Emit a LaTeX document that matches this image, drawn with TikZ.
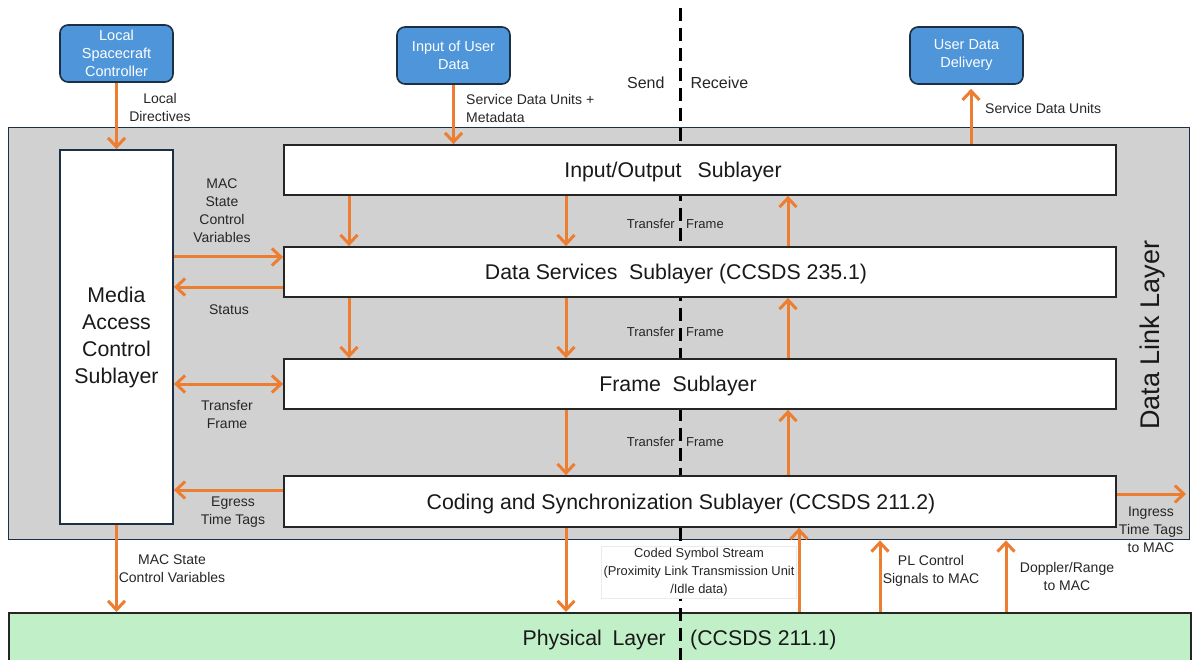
\documentclass[tikz,border=0pt]{standalone}
\usepackage{fontspec}
\setmainfont{Liberation Sans}
\usetikzlibrary{arrows.meta}
\definecolor{orng}{HTML}{ED7D31}
\definecolor{bluebox}{HTML}{4E95D9}
\definecolor{navy}{HTML}{1B2F45}
\definecolor{graybg}{HTML}{D1D1D1}
\definecolor{greenbg}{HTML}{C1F0C8}
\definecolor{txt}{HTML}{262626}
\tikzset{
  arr/.style={draw=orng, line width=3pt, -{Straight Barb[length=9pt,width=17pt,line width=3pt]}},
  darr/.style={draw=orng, line width=3pt, {Straight Barb[length=9pt,width=17pt,line width=3pt]}-{Straight Barb[length=9pt,width=17pt,line width=3pt]}},
  userbox/.style={draw=navy, line width=1.6pt, fill=bluebox, rounded corners=8pt, text=white,
     minimum width=113pt, minimum height=57pt, align=center, font=\fontsize{14.5}{18}\selectfont, inner sep=2pt},
  sub/.style={draw=black!85, line width=1.8pt, fill=white, minimum width=832pt, minimum height=50pt, inner sep=0pt},
  subtxt/.style={font=\fontsize{21.3}{25}\selectfont, text=black!90, anchor=base, inner sep=0pt},
  lbl/.style={font=\fontsize{14}{18}\selectfont, text=txt, align=center, inner sep=1pt},
  tf/.style={font=\fontsize{13}{16}\selectfont, text=txt, inner sep=1pt},
  sendline/.style={line width=3pt, black, dash pattern=on 13pt off 7pt},
}
\begin{document}
\begin{tikzpicture}[x=1pt,y=-1pt]
\useasboundingbox[fill=white] (0,0) rectangle (1196,660);

% layers (background)
\node[draw=navy, line width=1.4pt, fill=graybg, minimum width=1181pt, minimum height=412pt, anchor=north west, inner sep=0pt] (dll) at (8,127) {};
\node[draw=black!85, line width=1.6pt, fill=greenbg, minimum width=1182pt, minimum height=70pt, anchor=north west, inner sep=0pt] (phys) at (8,612) {};

% send/receive divider
\coordinate (dtop) at (680,8);
\coordinate (dbot) at (680,662);
\draw[sendline] (dtop) -- (dbot);

% user boxes
\node[userbox] (lsc) at (116.5,53.5) {Local\\Spacecraft\\Controller};
\node[userbox] (iud) at (453.5,55.5) {Input of User\\Data};
\node[userbox] (udd) at (966.5,55.5) {User Data\\Delivery};

% MAC sublayer
\node[draw=navy, line width=1.8pt, fill=white, minimum width=113pt, minimum height=374pt, inner sep=0pt,
      align=center, font=\fontsize{21.3}{27}\selectfont, text=black!90] (mac) at (116.5,337)
      {Media\\Access\\Control\\Sublayer};

% sublayers
\node[sub] (io) at (700,170) {};
\node[sub] (ds) at (700,272) {};
\node[sub] (fr) at (700,384) {};
\node[sub, minimum height=51pt] (cod) at (700,501.5) {};
\node[subtxt] (iotxt) at (673,177.5) {Input/Output\hspace{0.75em}Sublayer};
\node[subtxt] (dstxt) at (676,279.5) {Data Services\hspace{0.55em}Sublayer (CCSDS 235.1)};
\node[subtxt] (frtxt) at (678,391.5) {Frame\hspace{0.55em}Sublayer};
\node[subtxt] (codtxt) at (681,509) {Coding and Synchronization Sublayer (CCSDS 211.2)};

% texts
\node[font=\fontsize{27}{30}\selectfont, text=black!90, rotate=90] (dlltxt) at (1153,335) {Data Link Layer};
\node[font=\fontsize{16}{19}\selectfont, text=txt, anchor=east] (send) at (668,83) {Send};
\node[font=\fontsize{16}{19}\selectfont, text=txt, anchor=west] (recv) at (687,83) {Receive};
\node[font=\fontsize{21.3}{25}\selectfont, text=black!90, anchor=base east, inner sep=0pt] (ptxt1) at (666,645) {Physical\hspace{0.5em}Layer};
\node[font=\fontsize{21.3}{25}\selectfont, text=black!90, anchor=base west, inner sep=0pt] (ptxt2) at (690,645) {(CCSDS 211.1)};

% column coordinates
\coordinate (c1) at (349,0);
\coordinate (c2) at (566,0);
\coordinate (c3) at (788,0);
\coordinate (c4) at (799,0);
\coordinate (c5) at (880,0);
\coordinate (c6) at (1006,0);
\coordinate (c7) at (971,0);

% top arrows
\draw[arr] (lsc.south) -- (mac.north);
\node[lbl] (ldtxt) at (160,107) {Local\\Directives};
\draw[arr] (iud.south) -- (iud.south |- io.north);
\node[lbl, align=left, anchor=west] (sdutxt) at (465,108) {Service Data Units +\\Metadata};
\draw[arr, shorten >=4pt] (io.north -| c7) -- (udd.south -| c7);
\node[lbl, anchor=west] (sdu2txt) at (984,108) {Service Data Units};

% between sublayers
\draw[arr] (io.south -| c1) -- (ds.north -| c1);
\draw[arr] (io.south -| c2) -- (ds.north -| c2);
\draw[arr] (ds.north -| c3) -- (io.south -| c3);
\draw[arr] (ds.south -| c1) -- (fr.north -| c1);
\draw[arr] (ds.south -| c2) -- (fr.north -| c2);
\draw[arr] (fr.north -| c3) -- (ds.south -| c3);
\draw[arr] (fr.south -| c2) -- (cod.north -| c2);
\draw[arr] (cod.north -| c3) -- (fr.south -| c3);

\node[tf, anchor=east] (tf1a) at (676,224) {Transfer};
\node[tf, anchor=west] (tf1b) at (685,224) {Frame};
\node[tf, anchor=east] (tf2a) at (676,332) {Transfer};
\node[tf, anchor=west] (tf2b) at (685,332) {Frame};
\node[tf, anchor=east] (tf3a) at (676,442) {Transfer};
\node[tf, anchor=west] (tf3b) at (685,442) {Frame};

% MAC connections
\coordinate (y1) at (0,257);
\coordinate (y2) at (0,287);
\coordinate (y3) at (0,384);
\coordinate (y4) at (0,490);
\coordinate (y5) at (0,494);
\coordinate (ingend) at (1186,494);
\draw[arr] (mac.east |- y1) -- (ds.west |- y1);
\draw[arr] (ds.west |- y2) -- (mac.east |- y2);
\draw[darr] (mac.east |- y3) -- (fr.west |- y3);
\draw[arr] (cod.west |- y4) -- (mac.east |- y4);
\draw[arr] (cod.east |- y5) -- (ingend);

\node[lbl] (mscv) at (222,211) {MAC\\State\\Control\\Variables};
\node[lbl] (stat) at (229,310) {Status};
\node[lbl] (tfm) at (227,415) {Transfer\\Frame};
\node[lbl] (egr) at (233,512) {Egress\\Time Tags};
\node[lbl] (ingr) at (1151,530) {Ingress\\Time Tags\\to MAC};

% bottom arrows
\draw[arr] (mac.south) -- (mac.south |- phys.north);
\node[lbl] (mscv2) at (172,569) {MAC State\\Control Variables};
\draw[arr] (cod.south -| c2) -- (phys.north -| c2);
\node[lbl, fill=white, draw=black!8, inner sep=2pt, font=\fontsize{12.9}{18}\selectfont] (css) at (699,572) {Coded Symbol Stream\\(Proximity Link Transmission Unit\\/Idle data)};
\draw[arr] (phys.north -| c4) -- (cod.south -| c4);
\draw[arr] (phys.north -| c5) -- (dll.south -| c5);
\node[lbl] (plc) at (931,571) {PL Control\\Signals to MAC};
\draw[arr] (phys.north -| c6) -- (dll.south -| c6);
\node[lbl] (dop) at (1067,576) {Doppler/Range\\to MAC};
\end{tikzpicture}
\end{document}
